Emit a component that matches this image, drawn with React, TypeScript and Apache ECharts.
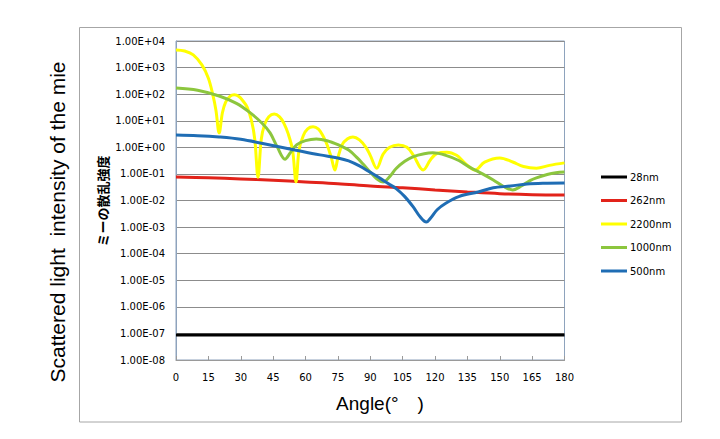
import React, { useEffect, useRef } from 'react';
import * as echarts from 'echarts';

const seriesNames = ['28nm', '262nm', '2200nm', '1000nm', '500nm'];
const seriesColors = ['#000000', '#e2231a', '#ffff00', '#8cc63e', '#1f6db4'];

const angles28 = [0, 45, 90, 135, 180];
const values28 = [8.7e-8, 8.7e-8, 8.7e-8, 8.7e-8, 8.7e-8];

const angles262 = [0, 15, 30, 45, 60, 75, 90, 105, 120, 135, 150, 165, 180];
const values262 = [0.076, 0.071, 0.065, 0.058, 0.05, 0.043, 0.035, 0.03, 0.025, 0.021, 0.018, 0.0166, 0.0162];

const angles2200 = [0, 4, 8, 12, 15, 17, 18.5, 20, 21.5, 23, 25, 27, 29, 31, 33, 35, 36.5, 38, 39.5, 41, 43, 45.5, 48, 50, 52, 54, 55.6, 57, 59, 61, 63.5, 66, 68, 70, 72, 73.6, 75, 77, 79.5, 82, 85, 88, 90, 93, 96, 99, 103, 107, 110, 114.5, 118, 121, 125.5, 130, 134, 138.5, 143, 150, 156, 161, 167, 173, 180];
const values2200 = [4600, 4200, 3000, 1260, 400, 100, 25, 3.5, 20, 50, 83, 95, 83, 56, 32, 10, 2.0, 0.075, 2.0, 7.0, 14, 18, 14, 8.0, 3.2, 0.8, 0.05, 0.8, 2.8, 5.0, 5.9, 4.8, 2.8, 1.26, 0.4, 0.14, 0.4, 1.26, 2.1, 2.45, 1.9, 1.0, 0.5, 0.165, 0.56, 1.0, 1.23, 1.0, 0.5, 0.14, 0.35, 0.6, 0.66, 0.5, 0.25, 0.14, 0.28, 0.4, 0.28, 0.19, 0.165, 0.21, 0.26];

const angles1000 = [0, 10, 20, 28, 34, 40, 43.6, 47, 50.5, 53, 56, 60, 65, 70, 75, 80, 84, 87, 90, 93, 96, 99, 102, 106, 110, 115, 119, 125, 131, 136, 142, 147, 152, 156, 160, 164, 167, 172, 176, 180];
const values1000 = [170, 141, 85, 45, 21, 7.9, 3.5, 1.0, 0.36, 0.63, 1.26, 1.78, 2.04, 1.78, 1.26, 0.79, 0.4, 0.22, 0.117, 0.066, 0.05, 0.079, 0.16, 0.3, 0.45, 0.575, 0.62, 0.5, 0.32, 0.18, 0.1, 0.059, 0.033, 0.025, 0.035, 0.056, 0.071, 0.095, 0.11, 0.117];

const angles500 = [0, 10, 20, 30, 43.6, 55, 66.7, 75, 80, 85, 90, 95, 99, 102, 106, 110, 113, 116, 118, 121, 125, 131, 140, 147, 155, 162.6, 170, 180];
const values500 = [2.9, 2.75, 2.45, 2.0, 1.23, 0.8, 0.52, 0.4, 0.31, 0.2, 0.115, 0.065, 0.04, 0.028, 0.014, 0.0056, 0.0025, 0.00155, 0.0022, 0.0045, 0.0079, 0.014, 0.021, 0.03, 0.035, 0.042, 0.045, 0.046];

const xTicks = [0, 15, 30, 45, 60, 75, 90, 105, 120, 135, 150, 165, 180];

const zip = (a: number[], v: number[]) => a.map((x, i) => [x, v[i]]);

const allAngles = [angles28, angles262, angles2200, angles1000, angles500];
const allValues = [values28, values262, values2200, values1000, values500];

const fmtExp = (v: number) => {
  const e = Math.round(Math.log10(v));
  const s = e < 0 ? '-' : '+';
  return '1.00E' + s + String(Math.abs(e)).padStart(2, '0');
};

export default function App() {
  const ref = useRef<HTMLDivElement>(null);
  useEffect(() => {
    document.body.style.margin = '0';
    const chart = echarts.init(ref.current!, undefined, { renderer: 'svg' });
    const labelFont = { fontFamily: 'DejaVu Sans', fontSize: 10, color: '#000' };
    chart.setOption({
      animation: false,
      backgroundColor: '#ffffff',
      grid: {
        left: 176, top: 41, width: 388.5, height: 319,
        show: true, borderColor: '#8ea3bd', borderWidth: 1, backgroundColor: 'transparent',
      },
      legend: {
        orient: 'vertical', left: 596, top: 167, itemWidth: 26, itemHeight: 3,
        itemGap: 13.5, icon: 'rect',
        data: seriesNames,
        textStyle: { ...labelFont, padding: [0, 0, 0, -2] },
      },
      xAxis: {
        type: 'value', min: 0, max: 180, interval: 15,
        axisLine: { show: true, lineStyle: { color: '#9a9a9a', width: 1 } },
        axisTick: { show: true, inside: true, length: 4, lineStyle: { color: '#9a9a9a' } },
        axisLabel: { ...labelFont, margin: 12, formatter: (v: number) => (xTicks.includes(v) ? String(v) : '') },
        splitLine: { show: false },
      },
      yAxis: {
        type: 'log', logBase: 10, min: 1e-8, max: 1e4, interval: 1, splitNumber: 12,
        axisLine: { show: true, lineStyle: { color: '#8ea3bd', width: 1 } },
        axisTick: { show: false },
        axisLabel: { ...labelFont, margin: 11, formatter: fmtExp },
        splitLine: { show: true, lineStyle: { color: '#8c8c8c', width: 1 } },
        minorTick: { show: false },
      },
      series: seriesNames.map((n, i) => ({
        name: n,
        type: 'line',
        data: zip(allAngles[i], allValues[i]),
        showSymbol: false,
        symbol: 'none',
        smooth: 0.35,
        lineStyle: { color: seriesColors[i], width: 3 },
        itemStyle: { color: seriesColors[i] },
      })),
      graphic: [
        {
          type: 'rect', silent: true,
          shape: { x: 79.5, y: 27.5, width: 602, height: 394.5 },
          style: { fill: 'none', stroke: '#a6a6a6', lineWidth: 1 },
          z: -1,
        },
        {
          type: 'text', x: 57, y: 222, rotation: Math.PI / 2,
          style: {
            text: 'Scattered light  intensity of the mie',
            fontFamily: 'Liberation Sans', fontSize: 21, fill: '#000',
            textAlign: 'center', textVerticalAlign: 'middle',
          },
        },
        {
          type: 'text', x: 102, y: 201, rotation: Math.PI / 2,
          style: {
            text: 'ミーの散乱強度',
            fontFamily: 'Noto Sans CJK JP', fontSize: 13, fontWeight: 'bold', fill: '#000',
            textAlign: 'center', textVerticalAlign: 'middle',
          },
        },
        {
          type: 'text', x: 380, y: 403,
          style: {
            text: 'Angle(°　)',
            fontFamily: 'Liberation Sans', fontSize: 19, fill: '#000',
            textAlign: 'center', textVerticalAlign: 'middle',
          },
        },
      ],
    });
    return () => chart.dispose();
  }, []);
  return <div ref={ref} style={{ width: 720, height: 439, position: 'fixed', left: 0, top: 0 }} />;
}
